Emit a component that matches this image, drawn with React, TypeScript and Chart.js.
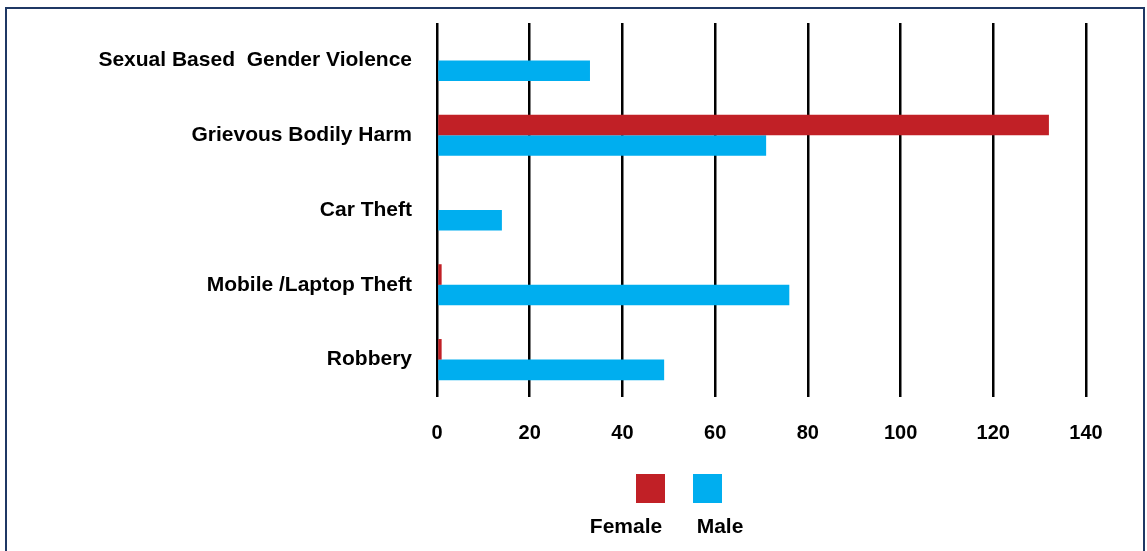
import React, { useEffect, useRef } from 'react';
import { Chart, registerables } from 'chart.js';

Chart.register(...registerables);

const categories = [
  'Sexual Based  Gender Violence',
  'Grievous Bodily Harm',
  'Car Theft',
  'Mobile /Laptop Theft',
  'Robbery',
];
const femaleValues: (number | null)[] = [null, 132, null, 1, 1];
const maleValues: (number | null)[] = [33, 71, 14, 76, 49];
const xTickValues = [0, 20, 40, 60, 80, 100, 120, 140];
const seriesNames = ['Female', 'Male'];

const RED = '#C12026';
const BLUE = '#00AEEF';
const FONT_FAMILY = '"Liberation Sans", Arial, Helvetica, sans-serif';

export default function App() {
  const ref = useRef<HTMLCanvasElement>(null);

  useEffect(() => {
    const xFont = { family: FONT_FAMILY, size: 20, weight: 'bold' as const };
    const yFont = { family: FONT_FAMILY, size: 21, weight: 'bold' as const };
    const chart = new Chart(ref.current!, {
      type: 'bar',
      data: {
        labels: categories,
        datasets: [
          {
            label: seriesNames[0],
            data: femaleValues,
            backgroundColor: RED,
            categoryPercentage: 0.55,
            barPercentage: 1,
          },
          {
            label: seriesNames[1],
            data: maleValues,
            backgroundColor: BLUE,
            categoryPercentage: 0.55,
            barPercentage: 1,
          },
        ],
      },
      options: {
        indexAxis: 'y',
        responsive: false,
        animation: false,
        layout: { padding: { top: 23, right: 61, bottom: 0, left: 0 } },
        plugins: { legend: { display: false }, tooltip: { enabled: false } },
        scales: {
          x: {
            min: 0,
            max: 140,
            afterBuildTicks: (s: any) => {
              s.ticks = xTickValues.map((v) => ({ value: v }));
            },
            ticks: { padding: 24, color: '#000', font: xFont },
            grid: { color: '#000', lineWidth: 2.5, drawTicks: false },
            border: { display: false },
            afterFit: (s: any) => {
              s.height = 154;
              s.paddingLeft = 0;
              s.paddingRight = 0;
            },
          },
          y: {
            ticks: { padding: 25, color: '#000', font: yFont },
            grid: { display: false, drawTicks: false },
            border: { display: false },
            afterFit: (s: any) => {
              s.width = 437;
              s.paddingTop = 0;
              s.paddingBottom = 0;
            },
          },
        },
      },
    });
    return () => chart.destroy();
  }, []);

  const legendText: React.CSSProperties = {
    position: 'absolute',
    width: 120,
    textAlign: 'center',
    fontFamily: FONT_FAMILY,
    fontWeight: 'bold',
    fontSize: 21,
    lineHeight: '21px',
    color: '#000',
    top: 515,
  };

  return (
    <div style={{ position: 'fixed', inset: 0, overflow: 'hidden', background: '#fff' }}>
      <canvas
        ref={ref}
        width={1147}
        height={551}
        style={{ position: 'absolute', left: 0, top: 0, display: 'block' }}
      />
      <div
        style={{
          position: 'absolute',
          left: 5,
          top: 7,
          width: 1140,
          height: 560,
          boxSizing: 'border-box',
          border: '2.5px solid #1F3864',
          pointerEvents: 'none',
        }}
      />
      <div style={{ position: 'absolute', left: 636, top: 474, width: 29, height: 29, background: RED }} />
      <div style={{ position: 'absolute', left: 693, top: 474, width: 29, height: 29, background: BLUE }} />
      <div style={{ ...legendText, left: 566 }}>{seriesNames[0]}</div>
      <div style={{ ...legendText, left: 660 }}>{seriesNames[1]}</div>
    </div>
  );
}
